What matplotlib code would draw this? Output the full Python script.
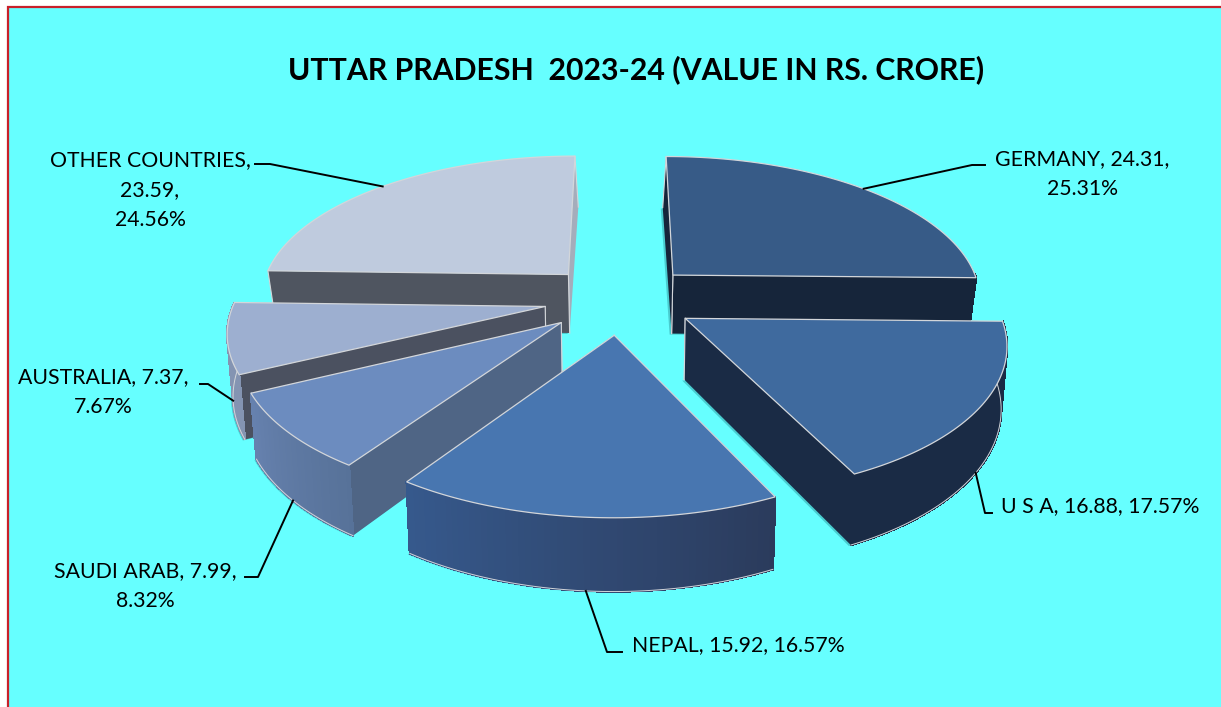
import numpy as np
import matplotlib
matplotlib.use("Agg")
import matplotlib.pyplot as plt
from matplotlib.colors import to_rgb

# chart data, clockwise from 12 o'clock
countries = ["GERMANY", "U S A", "NEPAL", "SAUDI ARAB", "AUSTRALIA", "OTHER COUNTRIES"]
values = [24.31, 16.88, 15.92, 7.99, 7.37, 23.59]
percents = [25.31, 17.57, 16.57, 8.32, 7.67, 24.56]

plt.rcParams["font.family"] = ["Lato", "DejaVu Sans"]

W, H = 1221, 707
BG = "#66FFFF"
EDGE = "#D3D6DA"

# projection of the tilted pie, in pixels
cx, cy = 620, 299
Rx, Ry = 310, 143
depth = 60
persp = 0.15
explode = 0.245

# top, radial wall at start, radial wall at end, outer wall start, outer wall end
colours = {
    "GERMANY": ("#375B87", "#16253A", "#16253A", "#16253A", "#16253A"),
    "U S A": ("#3F6A9E", "#1A2B45", "#1A2B45", "#1A2B45", "#1A2B45"),
    "NEPAL": ("#4876B0", "#2A3D60", "#2A3D60", "#2B3B5C", "#36598C"),
    "SAUDI ARAB": ("#6C8CBF", "#4F6585", "#4F6585", "#577299", "#6681AE"),
    "AUSTRALIA": ("#9DAFD0", "#4B5160", "#4B5160", "#8494B2", "#8494B2"),
    "OTHER COUNTRIES": ("#BFCBDE", "#4F5560", "#A4ADBB", "#6E7684", "#6E7684"),
}
draw_order = ["OTHER COUNTRIES", "GERMANY", "AUSTRALIA", "U S A", "SAUDI ARAB", "NEPAL"]


def project(X, Y, Z=0.0):
    X, Y = np.asarray(X, float), np.asarray(Y, float)
    k = 1 / (1 + persp * Y)
    shrink = 1 - Z * (0.015 + 0.05 * np.clip(Y, 0, None))
    return cx + Rx * X * k * shrink, cy - Ry * Y * k + depth * Z * k


def rim(t, m):
    return np.sin(t) + explode * np.sin(m), np.cos(t) + explode * np.cos(m)


def radial_wall(ax, t, m, colour, z):
    ax0, ay0 = explode * np.sin(m), explode * np.cos(m)
    rx0, ry0 = rim(t, m)
    pts = [project(ax0, ay0), project(rx0, ry0), project(rx0, ry0, 1), project(ax0, ay0, 1)]
    ax.fill(*zip(*pts), color=colour, lw=0, zorder=z)
    ax.plot(*zip(pts[0], pts[3]), color=EDGE, lw=0.8, zorder=z)
    ax.plot(*zip(pts[1], pts[2]), color=EDGE, lw=0.8, zorder=z)


fractions = np.array(values) / sum(values)
edges = np.concatenate([[0], np.cumsum(fractions)]) * 2 * np.pi

fig = plt.figure(figsize=(W / 100, H / 100), dpi=100, facecolor="white")
ax = fig.add_axes([0, 0, 1, 1])
ax.set_xlim(0, W)
ax.set_ylim(H, 0)
ax.axis("off")
ax.fill([7.5, W + 5, W + 5, 7.5], [6.5, 6.5, H + 5, H + 5], facecolor=BG, edgecolor="#C8202A", lw=1.6)

z = 2
for name in draw_order:
    i = countries.index(name)
    t0, t1 = edges[i], edges[i + 1]
    m = (t0 + t1) / 2
    top, wall0, wall1, outer0, outer1 = colours[name]
    ts = np.linspace(t0, t1, 60)
    xr, yr = rim(ts, m)
    apex = (explode * np.sin(m), explode * np.cos(m))

    # soft shadow of the bottom face
    sx, sy = project(np.r_[apex[0], xr], np.r_[apex[1], yr], 1)
    ax.fill(sx - 2, sy + 1, color="#2E9AA0", alpha=0.5, lw=0, zorder=z)
    z += 1

    # the light strip of the last slice sits behind its dark front wall
    radial_wall(ax, t1, m, wall1, z)
    z += 1
    radial_wall(ax, t0, m, wall0, z)
    z += 1

    # outer wall as thin strips, only the part that faces the viewer
    c0, c1 = np.array(to_rgb(outer0)), np.array(to_rgb(outer1))
    front = np.cos(ts) < 0.03
    for j in range(len(ts) - 1):
        if not (front[j] and front[j + 1]):
            continue
        pts = [project(xr[j], yr[j]), project(xr[j + 1], yr[j + 1]),
               project(xr[j + 1], yr[j + 1], 1), project(xr[j], yr[j], 1)]
        col = c0 + (c1 - c0) * j / (len(ts) - 2)
        ax.fill(*zip(*pts), facecolor=col, edgecolor=col, lw=1.0, antialiased=False, zorder=z)
    if front.any():
        ax.plot(*project(xr[front], yr[front], 1), color=EDGE, lw=0.7, zorder=z)
    z += 1

    # top face
    px, py = project(np.r_[apex[0], xr], np.r_[apex[1], yr])
    ax.fill(px, py, facecolor=top, edgecolor=EDGE, lw=0.9, joinstyle="miter", zorder=z)
    z += 1

ax.text(636, 70, "UTTAR PRADESH  2023-24 (VALUE IN RS. CRORE)", ha="center", va="center",
        fontsize=21.8, fontweight="bold", color="black", zorder=z)

labels = [
    "{}, {:.2f},\n{:.2f}%".format(countries[0], values[0], percents[0]),
    "{}, {:.2f}, {:.2f}%".format(countries[1], values[1], percents[1]),
    "{}, {:.2f}, {:.2f}%".format(countries[2], values[2], percents[2]),
    "{}, {:.2f},\n{:.2f}%".format(countries[3], values[3], percents[3]),
    "{}, {:.2f},\n{:.2f}%".format(countries[4], values[4], percents[4]),
    "{},\n{:.2f},\n{:.2f}%".format(countries[5], values[5], percents[5]),
]
# label centre, start of the leader, elbow, height on the wall where the leader lands
label_pos = [(1082, 174), (1100, 506), (738, 645), (145, 586), (103, 392), (150, 190)]
leader_start = [(985, 165), (992, 513), (622, 652), (245, 577), (200, 384), (255, 164)]
leader_elbow = [(972, 165), (985, 513), (607, 652), (258, 577), (208, 384), (270, 164)]
leader_z = [0, 1, 1, 1, 1, 0]

for i in range(6):
    ax.text(*label_pos[i], labels[i], ha="center", va="center", fontsize=15.3,
            color="black", linespacing=1.62, zorder=z)
    m = (edges[i] + edges[i + 1]) / 2
    xa, ya = rim(m, m)
    ex, ey = project(xa, ya, leader_z[i])
    ax.plot(*zip(leader_start[i], leader_elbow[i], (float(ex), float(ey))), color="black", lw=1.4, zorder=z)

fig.savefig("out.png", dpi=100)
